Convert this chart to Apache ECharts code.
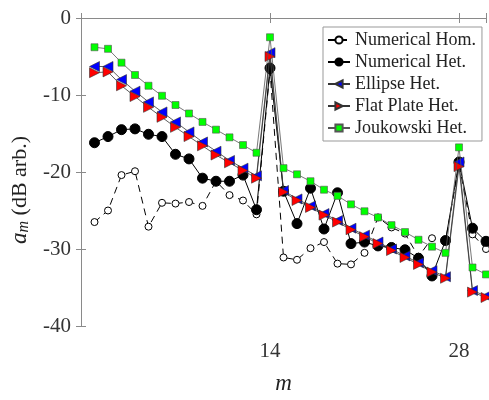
<!DOCTYPE html>
<html>
<head>
<meta charset="utf-8">
<script src="https://cdn.jsdelivr.net/npm/echarts@6/dist/echarts.min.js"></script>
<style>html,body{margin:0;padding:0;background:#fff;}#c{width:489px;height:400px;}</style>
</head>
<body>
<div id="c"></div>
<script>
var mValues = [1,2,3,4,5,6,7,8,9,10,11,12,13,14,15,16,17,18,19,20,21,22,23,24,25,26,27,28,29,30];
var numHom = [-26.5,-25.0,-20.4,-19.9,-27.1,-24.0,-24.1,-23.9,-24.4,-21.2,-23.0,-23.7,-25.5,-6.8,-31.1,-31.4,-29.9,-29.1,-31.9,-32.0,-30.5,-25.9,-27.2,-28.0,-31.0,-28.6,-29.0,-19.0,-28.1,-30.0];
var numHet = [-16.2,-15.4,-14.5,-14.4,-15.1,-15.4,-17.7,-18.3,-20.8,-21.2,-21.2,-20.4,-24.9,-6.5,-22.5,-26.7,-22.1,-27.4,-22.7,-29.3,-29.1,-29.6,-29.8,-30.1,-31.2,-33.5,-28.9,-18.7,-27.3,-29.0];
var ellipseHet = [-6.3,-6.3,-8.0,-9.5,-10.9,-12.2,-13.5,-14.8,-16.1,-17.3,-18.5,-19.5,-20.5,-4.5,-22.4,-23.5,-24.4,-25.4,-26.3,-27.3,-28.2,-29.1,-30.0,-30.9,-31.8,-32.8,-33.6,-18.7,-35.4,-36.1];
var flatHet = [-7.1,-7.0,-8.8,-10.2,-11.6,-12.9,-14.2,-15.4,-16.6,-17.8,-18.8,-19.8,-20.8,-5.0,-22.6,-23.7,-24.6,-25.6,-26.5,-27.5,-28.4,-29.3,-30.2,-31.1,-32.0,-33.0,-33.8,-19.3,-35.6,-36.3];
var joukHet = [-3.8,-4.0,-5.8,-7.4,-8.8,-10.1,-11.3,-12.4,-13.5,-14.5,-15.5,-16.5,-17.5,-2.5,-19.5,-20.3,-21.2,-22.3,-23.1,-24.2,-25.1,-25.9,-26.9,-27.8,-28.8,-29.7,-30.5,-16.8,-32.4,-33.3];
var xTickLabels = [14, 28];
var seriesNames = ['Numerical Hom.','Numerical Het.','Ellipse Het.','Flat Plate Het.','Joukowski Het.'];

function pairs(ys){ return mValues.map(function(m,i){ return [m, ys[i]]; }); }

var FONT = 'Liberation Serif';
var axisGray = '#8a8a8a';
var chart = echarts.init(document.getElementById('c'), null, {renderer:'canvas'});
chart.setOption({
  animation:false,
  backgroundColor:'#fff',
  textStyle:{fontFamily:FONT},
  grid:{left:81, top:18, right:-2, bottom:66, containLabel:false},
  legend:{
    orient:'vertical', left:323, top:27,
    backgroundColor:'#fff', borderColor:'#999', borderWidth:1,
    padding:[4,6,4,4], itemGap:4, itemWidth:22, itemHeight:9,
    textStyle:{fontFamily:FONT, fontSize:18, color:'#222', lineHeight:18},
    data:seriesNames
  },
  xAxis:[{
    type:'value', min:0, max:30, interval:14,
    name:'m', nameLocation:'middle', nameGap:46,
    nameTextStyle:{fontFamily:FONT, fontSize:23, fontStyle:'italic', color:'#222'},
    axisLine:{show:true, lineStyle:{color:axisGray}},
    axisTick:{show:true, inside:true, length:5, lineStyle:{color:axisGray}},
    axisLabel:{fontFamily:FONT, fontSize:21, color:'#333', margin:15,
      formatter:function(v){ return xTickLabels.indexOf(v) >= 0 ? String(v) : ''; }},
    splitLine:{show:false}
  },{
    type:'value', position:'top', min:0, max:30, interval:14,
    axisLine:{show:true, lineStyle:{color:axisGray}},
    axisTick:{show:true, inside:true, length:5, lineStyle:{color:axisGray}},
    axisLabel:{show:false}, splitLine:{show:false}
  }],
  yAxis:[{
    type:'value', min:-40, max:0, interval:10,
    name:'{a|a}{s|m}{t| (dB arb.)}', nameLocation:'middle', nameGap:49, nameRotate:90,
    nameTextStyle:{fontFamily:FONT, fontSize:22, color:'#222', padding:[0,36,0,0],
      rich:{
        a:{fontFamily:FONT, fontSize:23, fontStyle:'italic', color:'#222'},
        s:{fontFamily:FONT, fontSize:16, fontStyle:'italic', color:'#222', padding:[8,0,0,0]},
        t:{fontFamily:FONT, fontSize:22, color:'#222'}
      }},
    axisLine:{show:true, lineStyle:{color:axisGray}},
    axisTick:{show:true, inside:true, length:5, lineStyle:{color:axisGray}},
    axisLabel:{fontFamily:FONT, fontSize:21, color:'#333', margin:10},
    splitLine:{show:false}
  },{
    type:'value', position:'right', min:-40, max:0, interval:10,
    axisLine:{show:true, lineStyle:{color:axisGray}},
    axisTick:{show:true, inside:true, length:5, lineStyle:{color:axisGray}},
    axisLabel:{show:false}, splitLine:{show:false}
  }],
  series:[
    {name:seriesNames[0], type:'line', data:pairs(numHom), symbol:'circle', symbolSize:7,
     lineStyle:{color:'#000', width:1, type:[7,5]},
     itemStyle:{color:'#fff', borderColor:'#000', borderWidth:1}, z:2},
    {name:seriesNames[1], type:'line', data:pairs(numHet), symbol:'circle', symbolSize:10,
     lineStyle:{color:'#000', width:1},
     itemStyle:{color:'#000', borderColor:'#000', borderWidth:1}, z:3},
    {name:seriesNames[2], type:'line', data:pairs(ellipseHet), symbol:'triangle', symbolSize:10, symbolRotate:90,
     lineStyle:{color:'#333', width:0.8},
     itemStyle:{color:'#0000ff', borderColor:'#333', borderWidth:0.6}, z:4},
    {name:seriesNames[3], type:'line', data:pairs(flatHet), symbol:'triangle', symbolSize:10, symbolRotate:-90,
     lineStyle:{color:'#333', width:0.8},
     itemStyle:{color:'#ff0000', borderColor:'#333', borderWidth:0.6}, z:5},
    {name:seriesNames[4], type:'line', data:pairs(joukHet), symbol:'rect', symbolSize:7,
     lineStyle:{color:'#555', width:0.8},
     itemStyle:{color:'#00ff00', borderColor:'#555', borderWidth:0.6}, z:6}
  ]
});
</script>
</body>
</html>
